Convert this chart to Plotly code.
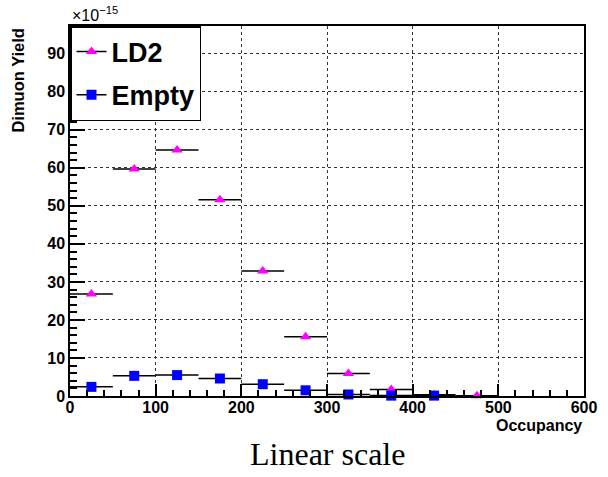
import plotly.graph_objects as go

occupancy = [25, 75, 125, 175, 225, 275, 325, 375, 425, 475]
bin_half_width = 25
ld2_yield = [26.8, 59.7, 64.7, 51.6, 32.9, 15.6, 5.9, 1.7, 0.3, 0.05]
empty_yield = [2.4, 5.3, 5.5, 4.6, 3.1, 1.5, 0.4, 0.1, 0.1, None]
x_ticks = [0, 100, 200, 300, 400, 500, 600]
y_ticks = [0, 10, 20, 30, 40, 50, 60, 70, 80, 90]

FONT = "Liberation Sans"
MAGENTA = "#ff00ff"
BLUE = "#0000ff"

fig = go.Figure()

ebar = dict(type="constant", value=bin_half_width, color="black", thickness=1.5, width=0)

fig.add_trace(go.Scatter(
    x=occupancy, y=ld2_yield, mode="markers", name="LD2", showlegend=False,
    marker=dict(symbol="triangle-up", size=10, color=MAGENTA),
    error_x=ebar, cliponaxis=False))
fig.add_trace(go.Scatter(
    x=occupancy, y=empty_yield, mode="markers", name="Empty", showlegend=False,
    marker=dict(symbol="square", size=10, color=BLUE),
    error_x=ebar, cliponaxis=False))

# legend entries (line + marker like ROOT "lp")
fig.add_trace(go.Scatter(
    x=[None], y=[None], mode="lines+markers", name="LD2", legendgroup="a",
    line=dict(color="black", width=1.5),
    marker=dict(symbol="triangle-up", size=10, color=MAGENTA)))
fig.add_trace(go.Scatter(
    x=[None], y=[None], mode="lines+markers", name="Empty", legendgroup="b",
    line=dict(color="black", width=1.5),
    marker=dict(symbol="square", size=10, color=BLUE)))

axis_common = dict(
    showline=True, linecolor="black", linewidth=1.5, mirror=True,
    ticks="inside", tickcolor="black", tickwidth=1.5,
    showgrid=True, gridcolor="#333333", griddash="dot", gridwidth=1,
    zeroline=False,
    tickfont=dict(family=FONT, size=16, color="black", weight="bold"),
)

fig.update_xaxes(
    range=[0, 600], tickvals=x_ticks, ticktext=[str(v) for v in x_ticks],
    ticklen=12, ticklabelstandoff=-4,
    minor=dict(ticks="inside", dtick=20, tick0=0, ticklen=6, tickcolor="black", tickwidth=1.5, showgrid=False),
    **axis_common)
fig.update_yaxes(
    range=[0, 97.3], tickvals=y_ticks, ticktext=[str(v) for v in y_ticks],
    ticklen=15,
    minor=dict(ticks="inside", dtick=2, tick0=0, ticklen=7.5, tickcolor="black", tickwidth=1.5, showgrid=False),
    **axis_common)

fig.update_layout(
    width=608, height=477,
    margin=dict(l=70, r=24, t=26, b=81),
    paper_bgcolor="white", plot_bgcolor="white",
    showlegend=True,
    legend=dict(
        x=0, y=1, xanchor="left", yanchor="top",
        bgcolor="white", bordercolor="black", borderwidth=1.5,
        font=dict(family=FONT, size=27, color="black", weight="bold"),
        tracegroupgap=5, traceorder="grouped",
    ),
    annotations=[
        dict(text="Dimuon Yield", textangle=-90, xref="paper", yref="paper",
             x=-0.103, y=1.0, xanchor="center", yanchor="top", showarrow=False,
             font=dict(family=FONT, size=16.5, color="black", weight="bold")),
        dict(text="Occupancy", xref="paper", yref="paper",
             x=1.0, y=-0.052, xanchor="right", yanchor="top", showarrow=False,
             font=dict(family=FONT, size=16, color="black", weight="bold")),
        dict(text="×10<sup>−15</sup>", xref="paper", yref="paper",
             x=0.0, y=1.0, xanchor="left", yanchor="bottom", showarrow=False,
             font=dict(family=FONT, size=16, color="black")),
        dict(text="Linear scale", xref="paper", yref="paper",
             x=0.5, y=-0.102, xanchor="center", yanchor="top", showarrow=False,
             font=dict(family="Liberation Serif", size=32, color="black")),
    ],
)

fig.write_html("out.html", config={"displayModeBar": False},
               post_script="document.body.style.margin='0';document.body.style.overflow='hidden';")
